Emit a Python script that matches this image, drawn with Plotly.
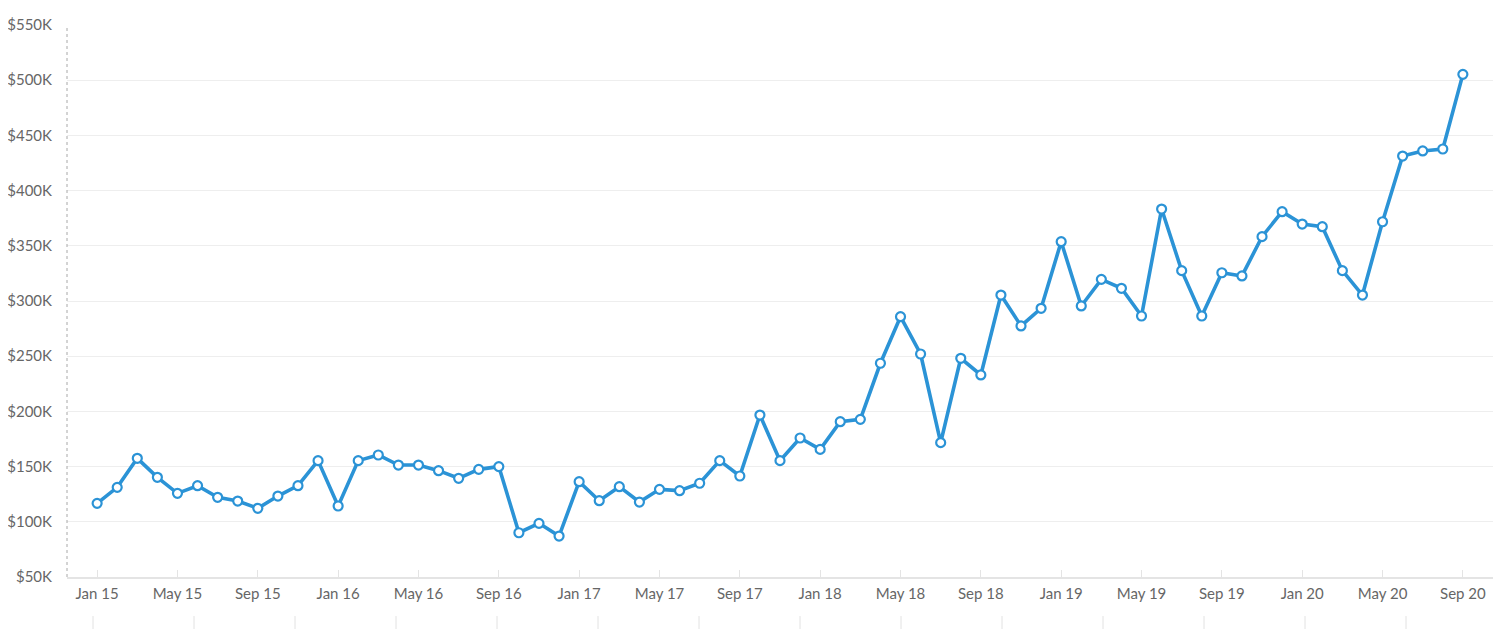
import plotly.graph_objects as go

months = []
for yr in range(15, 21):
    for m in ["Jan", "Feb", "Mar", "Apr", "May", "Jun", "Jul", "Aug", "Sep", "Oct", "Nov", "Dec"]:
        months.append(f"{m} {yr}")
months = months[:69]  # Jan 15 .. Sep 20

values_k = [
    116.7, 131.2, 157.5, 140.3, 125.8, 132.7, 122.2, 118.8, 112.2, 123.3, 132.7, 155.4,
    114.3, 155.4, 160.5, 151.4, 151.4, 146.3, 139.4, 147.5, 150.0, 90.1, 98.6, 87.1,
    136.3, 119.1, 131.8, 117.9, 129.4, 128.2, 134.9, 155.4, 141.5, 196.7, 155.4, 175.9,
    165.6, 190.7, 192.8, 243.6, 285.8, 252.0, 171.7, 248.1, 233.0, 305.4, 277.4, 293.4,
    353.7, 295.5, 319.6, 311.5, 286.4, 383.3, 327.5, 286.4, 325.6, 322.7, 358.3, 380.9,
    369.7, 367.3, 327.5, 305.4, 371.8, 431.3, 435.9, 437.7, 505.3,
]
values = [v * 1000 for v in values_k]

tick_labels = months[::4]
tick_idx = list(range(0, len(months), 4))

y_ticks = list(range(50000, 550001, 50000))
y_labels = [f"${v // 1000}K" for v in y_ticks]

x_idx = list(range(len(months)))

fig = go.Figure()
fig.add_trace(go.Scatter(
    x=x_idx, y=values, mode="lines+markers",
    line=dict(color="#2b93d6", width=3.6),
    marker=dict(size=9, color="white", line=dict(color="#2b93d6", width=2.2)),
    customdata=months,
    hovertemplate="%{customdata}: $%{y:,.0f}<extra></extra>",
))

# dotted y-axis line
fig.add_shape(type="line", xref="paper", yref="paper", x0=0, x1=0, y0=0, y1=1,
              line=dict(color="#a8a8a8", width=1, dash="dot"))

# faint ruler lines below the axis
for k in range(14):
    px = 93 + 101 * k
    xp = (px - 67) / 1426
    fig.add_shape(type="line", xref="paper", yref="paper", x0=xp, x1=xp,
                  y0=-0.0707, y1=-0.1, line=dict(color="#e2e2e2", width=1))

fig.update_layout(
    width=1498, height=621,
    margin=dict(l=59, r=13, t=17, b=52),
    plot_bgcolor="white", paper_bgcolor="white",
    showlegend=False,
    font=dict(family="Lato, 'Open Sans', sans-serif", size=15, color="#666666"),
    xaxis=dict(
        range=[-1.5, 69.5], automargin=False,
        tickmode="array", tickvals=tick_idx, ticktext=tick_labels,
        showgrid=False, zeroline=False,
        showline=True, linecolor="#e4e4e4", linewidth=1.5,
        ticks="inside", ticklen=7, tickcolor="#e4e4e4", tickwidth=1,
        ticklabelstandoff=2,
    ),
    yaxis=dict(
        range=[50000, 550000], automargin=False,
        tickmode="array", tickvals=y_ticks, ticktext=y_labels,
        showgrid=True, gridcolor="#eeeeee", gridwidth=1,
        zeroline=False, showline=False, ticks="",
        ticklabelstandoff=14,
    ),
)

fig.write_html("out.html")
